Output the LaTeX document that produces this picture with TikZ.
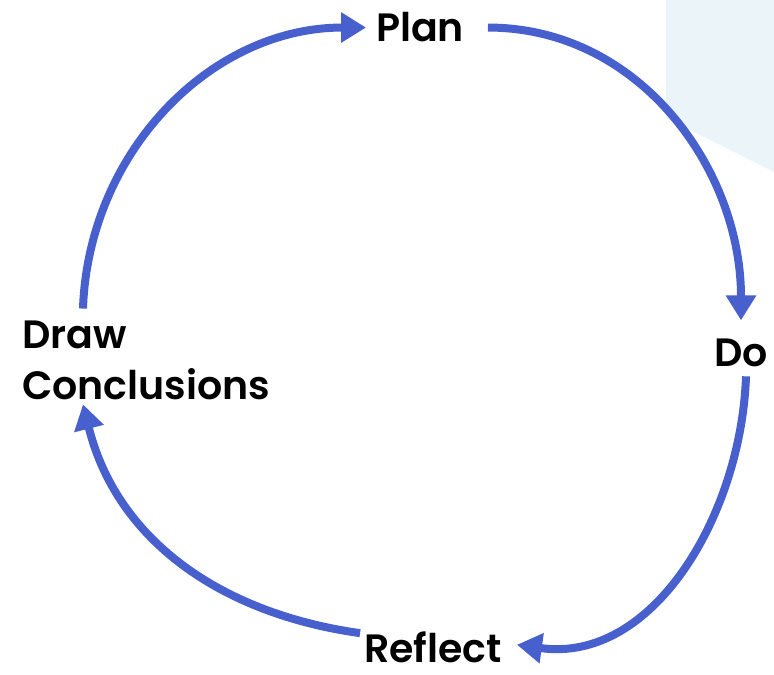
\documentclass[tikz,border=0pt]{standalone}
\usepackage{fontspec}
\setmainfont{Poppins}[BoldFont={* SemiBold}]
\usetikzlibrary{arrows.meta}
\definecolor{cycleblue}{RGB}{71,96,206}
\definecolor{paleblue}{RGB}{235,244,248}

\begin{document}
\begin{tikzpicture}[x=0.02cm,y=0.02cm,->,>={Triangle[length=0.5cm,width=0.58cm]},
  line width=0.16cm,cycleblue,
  stage/.style={inner sep=0pt,text=black,font=\bfseries\fontsize{22.5}{29.5}\selectfont}]

  \useasboundingbox (0,0) rectangle (774,675);
  \fill[paleblue] (666,675) -- (774,675) -- (774,503) -- (666,557) -- cycle;

  \node[stage] (plan) [anchor=base] at (420,633) {Plan};
  \node[stage] (do) [anchor=base] at (741,308) {Do};
  \node[stage] (reflect) [anchor=base] at (433,12) {Reflect};
  \node[stage,align=left,anchor=base west] (concl) at (18,275) {Draw\\Conclusions};

  \path
    ([xshift=0.4cm]plan.east) edge [out=0,in=90] ([yshift=0.3cm]do.north)
    ([xshift=0.1cm,yshift=-0.1cm]do.south) edge [out=-92,in=-8] ([xshift=0.22cm,yshift=0.06cm]reflect.east)
    ([yshift=-0.1cm]reflect.north west) edge [out=172,in=-76] ([xshift=1.3cm]concl.south west)
    ([xshift=1.3cm,yshift=0.16cm]concl.north west) edge [out=88,in=180] ([xshift=-0.12cm]plan.west);
\end{tikzpicture}
\end{document}
